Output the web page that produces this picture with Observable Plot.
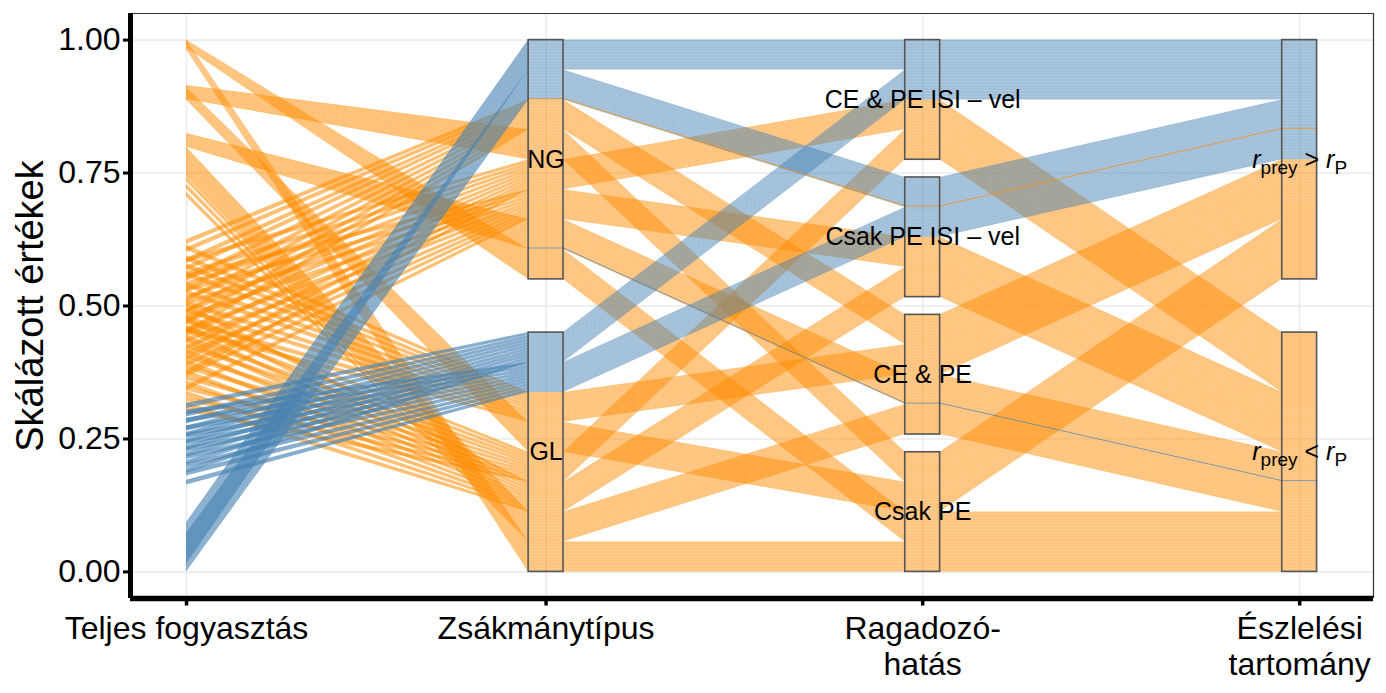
<!DOCTYPE html>
<html><head><meta charset="utf-8">
<script src="https://cdn.jsdelivr.net/npm/d3@7"></script>
<script src="https://cdn.jsdelivr.net/npm/@observablehq/plot@0.6"></script>
<style>
html,body{margin:0;padding:0;background:#fff;}
#chart{width:1386px;height:693px;}
</style>
</head><body><div id="chart"></div>
<script>
// ---------------- data ----------------
const axisTitles = ["Teljes fogyasztás", "Zsákmánytípus", "Ragadozó-\nhatás", "Észlelési\ntartomány"];
const preyLevels = ["GL", "NG"];                                   // bottom -> top
const predLevels = ["Csak PE", "CE & PE", "Csak PE ISI – vel", "CE & PE ISI – vel"]; // bottom -> top
const rangeLevels = ["r_prey < r_P", "r_prey > r_P"];              // bottom -> top
const yTicks = [0, 0.25, 0.5, 0.75, 1];

const groupPrey = ["NG","NG","NG","NG","NG","NG","NG","NG","GL","GL","GL","GL","GL","GL","GL","GL"];
const groupPred = ["CE & PE ISI – vel","Csak PE ISI – vel","CE & PE","Csak PE","CE & PE ISI – vel","Csak PE ISI – vel","CE & PE","Csak PE",
                   "CE & PE ISI – vel","Csak PE ISI – vel","CE & PE","Csak PE","CE & PE ISI – vel","Csak PE ISI – vel","CE & PE","Csak PE"];
const groupRange = ["r_prey > r_P","r_prey > r_P","r_prey > r_P","r_prey > r_P","r_prey < r_P","r_prey < r_P","r_prey < r_P","r_prey < r_P",
                    "r_prey > r_P","r_prey > r_P","r_prey > r_P","r_prey > r_P","r_prey < r_P","r_prey < r_P","r_prey < r_P","r_prey < r_P"];
const groupBlue = [1,1,0,0,0,0,0,0, 1,1,0,0,0,0,0,0];
// scaled total consumption (Teljes fogyasztás) of each replicate
const groupTotal = [
  [0.088, 0.079, 0.072, 0.064, 0.058, 0.051, 0.043, 0.036, 0.027, 0.019],
  [0.068, 0.060, 0.052, 0.046, 0.038, 0.031, 0.024, 0.016, 0.009, 0.003],
  [0.620, 0.605, 0.585, 0.570, 0.550, 0.530, 0.510, 0.490, 0.470, 0.450],
  [0.913, 0.910, 0.907, 0.905, 0.903, 0.900, 0.898, 0.896, 0.893, 0.890],
  [0.585, 0.560, 0.540, 0.515, 0.490, 0.470, 0.445, 0.420, 0.400, 0.375],
  [0.555, 0.530, 0.505, 0.480, 0.455, 0.435, 0.410, 0.390, 0.370, 0.345],
  [0.823, 0.820, 0.818, 0.815, 0.813, 0.811, 0.809, 0.806, 0.803, 0.800],
  [1.000, 0.999, 0.997, 0.996, 0.994, 0.993, 0.991, 0.990, 0.988, 0.986],
  [0.312, 0.296, 0.283, 0.270, 0.258, 0.246, 0.233, 0.220, 0.205, 0.190],
  [0.300, 0.285, 0.270, 0.256, 0.243, 0.230, 0.216, 0.200, 0.185, 0.168],
  [0.610, 0.590, 0.575, 0.560, 0.540, 0.525, 0.505, 0.490, 0.470, 0.455],
  [0.910, 0.908, 0.906, 0.904, 0.901, 0.899, 0.897, 0.895, 0.892, 0.889],
  [0.480, 0.460, 0.440, 0.425, 0.405, 0.385, 0.365, 0.345, 0.325, 0.305],
  [0.500, 0.475, 0.455, 0.435, 0.415, 0.395, 0.375, 0.355, 0.335, 0.315],
  [0.795, 0.788, 0.780, 0.773, 0.765, 0.757, 0.748, 0.738, 0.725, 0.710],
  [0.999, 0.997, 0.996, 0.994, 0.992, 0.991, 0.989, 0.987, 0.985, 0.983]
];
// replicates whose colour differs from the rest of their group: [group, replicate]
const flippedObs = [[1, 9], [6, 9]];

// ---------------- layout ----------------
const axisPos = [1, 1.969, 2.984, 4];
const halfBox = 0.047;
const lineHalf = 0.0045;   // half thickness of a replicate's line at the numeric axis
const orange = "#ff8c00", blue = "#4682b4";

// observations
const obs = [];
groupTotal.forEach((vals, g) => vals.forEach((v, j) => {
  const flip = flippedObs.some(([fg, fj]) => fg === g && fj === j);
  const up = j === 0 ? (vals[0] - vals[1]) / 2 : (vals[j - 1] - v) / 2;
  const dn = j === vals.length - 1 ? (vals[j - 1] - v) / 2 : (v - vals[j + 1]) / 2;
  obs.push({id: obs.length, prey: groupPrey[g], pred: groupPred[g], range: groupRange[g],
            total: v, tLo: Math.max(0, v - Math.min(dn, lineHalf)), tHi: Math.min(1, v + Math.min(up, lineHalf)),
            order: j, blue: groupBlue[g] === 1, flip, pos: []});
}));
const N = obs.length, unit = 0.9 / N;
const rRank = o => rangeLevels.length - 1 - rangeLevels.indexOf(o.range);
const pRank = o => predLevels.length - 1 - predLevels.indexOf(o.pred);
const yRank = o => preyLevels.length - 1 - preyLevels.indexOf(o.prey);
const mid = p => (p[0] + p[1]) / 2;

const boxes = [];
function place(k, levels, key, cmp) {
  const gap = 0.1 / (levels.length - 1);
  let base = 0;
  for (const lev of levels) {
    const m = obs.filter(o => o[key] === lev).sort(cmp);
    const top = base + m.length * unit;
    m.forEach((o, i) => { o.pos[k] = [top - (i + 1) * unit, top - i * unit]; });
    boxes.push({x: axisPos[k], lo: base, hi: top, label: lev});
    base = top + gap;
  }
}
place(1, preyLevels, "prey", (a, b) => rRank(a) - rRank(b) || pRank(a) - pRank(b) || a.order - b.order);
place(2, predLevels, "pred", (a, b) => rRank(a) - rRank(b) || yRank(a) - yRank(b) || mid(b.pos[1]) - mid(a.pos[1]));
place(3, rangeLevels, "range", (a, b) => pRank(a) - pRank(b) || yRank(a) - yRank(b) || mid(b.pos[2]) - mid(a.pos[2]));

function leftSeg(o) {
  return [{id: o.id, x: axisPos[0], lo: o.tLo, hi: o.tHi},
          {id: o.id, x: axisPos[1] - halfBox, lo: o.pos[1][0], hi: o.pos[1][1]}];
}
function restSeg(o) {
  const pts = [];
  for (let k = 1; k < 4; k++) {
    pts.push({id: o.id, x: axisPos[k] - halfBox, lo: o.pos[k][0], hi: o.pos[k][1]});
    pts.push({id: o.id, x: axisPos[k] + halfBox, lo: o.pos[k][0], hi: o.pos[k][1]});
  }
  return pts;
}
const orangeObs = obs.filter(o => !o.blue), blueObs = obs.filter(o => o.blue);
const flipLines = obs.filter(o => o.flip).flatMap(o => restSeg(o).map(p => ({...p, c: o.blue ? orange : blue})));

const xDom = [0.849, 4.199], yDom = [-0.05, 1.05];

const chart = Plot.plot({
  width: 1386, height: 693,
  marginLeft: 130, marginRight: 13, marginTop: 13, marginBottom: 95,
  x: {domain: xDom, axis: null},
  y: {domain: yDom, axis: null},
  style: {fontFamily: "'Liberation Sans', Arial, sans-serif", background: "white", color: "black"},
  marks: [
    Plot.ruleY(yTicks, {stroke: "#ebebeb", strokeWidth: 1.6}),
    Plot.ruleX(axisPos, {stroke: "#ebebeb", strokeWidth: 1.6}),
    Plot.areaY(orangeObs.flatMap(leftSeg), {x: "x", y1: "lo", y2: "hi", z: "id", fill: orange, fillOpacity: 0.55}),
    Plot.areaY(blueObs.flatMap(leftSeg), {x: "x", y1: "lo", y2: "hi", z: "id", fill: blue, fillOpacity: 0.65}),
    Plot.areaY(orangeObs.flatMap(restSeg), {x: "x", y1: "lo", y2: "hi", z: "id", fill: orange, fillOpacity: 0.5}),
    Plot.areaY(blueObs.flatMap(restSeg), {x: "x", y1: "lo", y2: "hi", z: "id", fill: blue, fillOpacity: 0.5}),
    Plot.line(flipLines, {x: "x", y: d => (d.lo + d.hi) / 2, z: "id", stroke: "c", strokeWidth: 1, strokeOpacity: 0.7}),
    Plot.rect(boxes, {x1: d => d.x - halfBox, x2: d => d.x + halfBox, y1: "lo", y2: "hi",
                      fill: "none", stroke: "#555", strokeWidth: 1.6}),
    Plot.text(boxes, {x: "x", y: d => (d.lo + d.hi) / 2, text: "label", fontSize: 25, fill: "black"}),
    // frame
    Plot.ruleY([yDom[1]], {stroke: "#333", strokeWidth: 1.2}),
    Plot.ruleX([xDom[1]], {stroke: "#333", strokeWidth: 1.2}),
    Plot.ruleX([xDom[0]], {stroke: "black", strokeWidth: 5}),
    Plot.ruleY([yDom[0]], {stroke: "black", strokeWidth: 5.5}),
    // axes
    Plot.axisY(yTicks, {tickFormat: d3.format(".2f"), fontSize: 32, tickSize: 7, tickPadding: 3,
                        stroke: "black", strokeWidth: 3, fill: "black", label: null, anchor: "left"}),
    Plot.ruleX(axisPos, {y1: yDom[0], y2: yDom[0] - 7.5 / 532, stroke: "black", strokeWidth: 3.5}),
    Plot.text(axisPos, {x: d => d, frameAnchor: "bottom", dy: 14, lineAnchor: "top", lineHeight: 1.15,
                        text: (d, i) => axisTitles[i], fontSize: 32, fill: "black"}),
    Plot.text(["Skálázott értékek"], {frameAnchor: "left", textAnchor: "middle", rotate: -90, dx: -100,
                                      fontSize: 38, fill: "black"})
  ]
});

// rich text for r_prey / r_P labels
d3.select(chart).selectAll("text").each(function() {
  const t = this.textContent;
  if (t === "r_prey > r_P" || t === "r_prey < r_P") {
    const op = t.includes(">") ? ">" : "<";
    const s = d3.select(this);
    s.text(null);
    s.append("tspan").attr("font-style", "italic").text("r");
    s.append("tspan").attr("font-size", "19").attr("dy", "6").text("prey");
    s.append("tspan").attr("dy", "-6").text(" " + op + " ");
    s.append("tspan").attr("font-style", "italic").text("r");
    s.append("tspan").attr("font-size", "19").attr("dy", "6").text("P");
  }
});

document.getElementById("chart").appendChild(chart);
</script>
</body></html>
